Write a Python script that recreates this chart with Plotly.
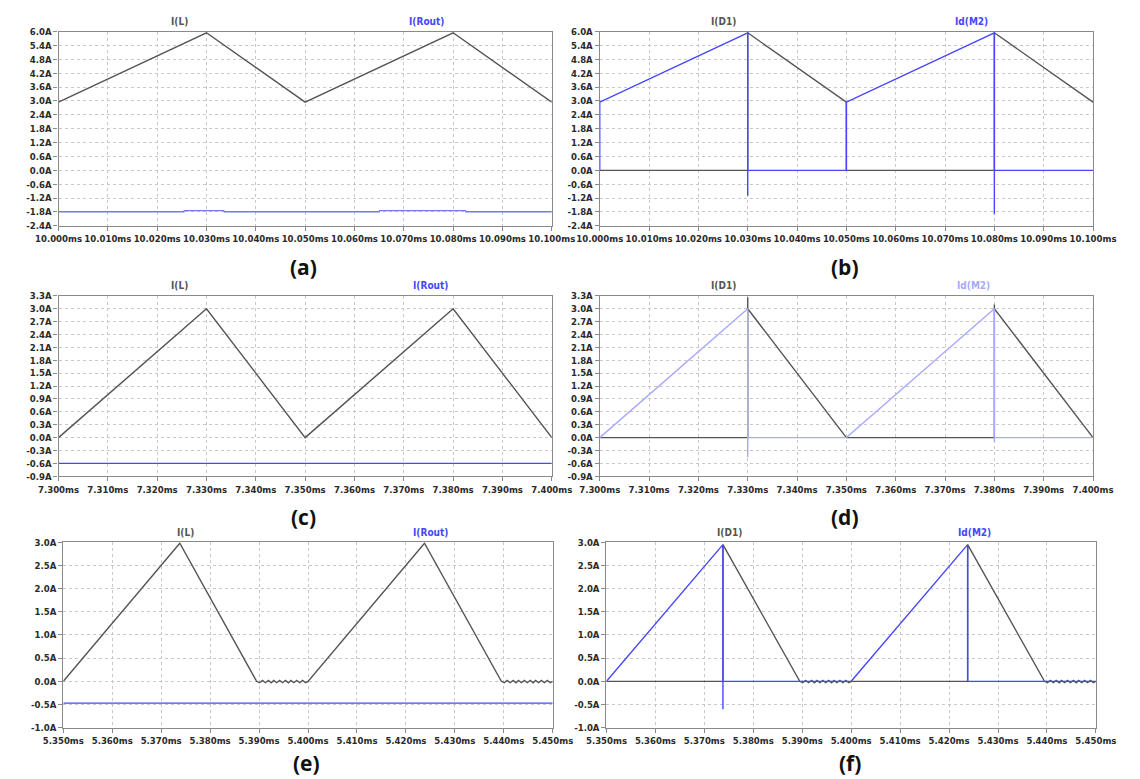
import plotly.graph_objects as go

W, H = 1140, 779

# ---------------- data ----------------
# (a)
a_t = [10.000, 10.030, 10.050, 10.080, 10.100]
a_il = [2.95, 5.95, 2.95, 5.95, 2.95]
a_rout_t = [10.000, 10.0254, 10.0255, 10.0335, 10.0336, 10.0650, 10.0651, 10.0825, 10.0826, 10.100]
a_rout = [-1.79, -1.79, -1.74, -1.74, -1.79, -1.79, -1.74, -1.74, -1.79, -1.79]

# (b)
b_d1_t = [10.000, 10.030, 10.030, 10.050, 10.050, 10.080, 10.080, 10.100]
b_d1 = [0.0, 0.0, 5.95, 2.95, 0.0, 0.0, 5.95, 2.95]
b_m2_t = [10.000, 10.000, 10.030, 10.030, 10.030, 10.050, 10.050, 10.080, 10.080, 10.080, 10.100]
b_m2 = [0.0, 2.95, 5.95, -1.1, 0.0, 0.0, 2.95, 5.95, -1.9, 0.0, 0.0]

# (c)
c_t = [7.300, 7.330, 7.350, 7.380, 7.400]
c_il = [0.0, 3.0, 0.0, 3.0, 0.0]
c_rout_t = [7.300, 7.400]
c_rout = [-0.6, -0.6]

# (d)
d_d1_t = [7.300, 7.330, 7.330, 7.330, 7.350, 7.380, 7.380, 7.380, 7.400]
d_d1 = [0.0, 0.0, 3.27, 3.0, 0.0, 0.0, 3.1, 3.0, 0.0]
d_m2_t = [7.300, 7.330, 7.330, 7.330, 7.350, 7.380, 7.380, 7.380, 7.400]
d_m2 = [0.0, 3.0, -0.45, 0.0, 0.0, 3.0, -0.1, 0.0, 0.0]

# (e)
e_t = [5.3500, 5.3738, 5.3895,
       5.3901, 5.3907, 5.3913, 5.3919, 5.3925, 5.3930, 5.3936, 5.3942, 5.3948,
       5.3954, 5.3960, 5.3965, 5.3971, 5.3977, 5.3983, 5.3989, 5.3995, 5.4000,
       5.4238, 5.4395,
       5.4401, 5.4407, 5.4413, 5.4419, 5.4425, 5.4430, 5.4436, 5.4442, 5.4448,
       5.4454, 5.4460, 5.4465, 5.4471, 5.4477, 5.4483, 5.4489, 5.4495, 5.4500]
e_il = [0.0, 2.98, 0.0,
        -0.03, 0.02, -0.03, 0.02, -0.03, 0.02, -0.03, 0.02, -0.03,
        0.02, -0.03, 0.02, -0.03, 0.02, -0.03, 0.02, -0.03, 0.0,
        2.98, 0.0,
        -0.03, 0.02, -0.03, 0.02, -0.03, 0.02, -0.03, 0.02, -0.03,
        0.02, -0.03, 0.02, -0.03, 0.02, -0.03, 0.02, -0.03, 0.0]
e_rout_t = [5.350, 5.450]
e_rout = [-0.47, -0.47]

# (f)
f_d1_t = [5.3500, 5.3738, 5.3738, 5.3895,
          5.3901, 5.3907, 5.3913, 5.3919, 5.3925, 5.3930, 5.3936, 5.3942, 5.3948,
          5.3954, 5.3960, 5.3965, 5.3971, 5.3977, 5.3983, 5.3989, 5.3995, 5.4000,
          5.4238, 5.4238, 5.4395,
          5.4401, 5.4407, 5.4413, 5.4419, 5.4425, 5.4430, 5.4436, 5.4442, 5.4448,
          5.4454, 5.4460, 5.4465, 5.4471, 5.4477, 5.4483, 5.4489, 5.4495, 5.4500]
f_d1 = [0.0, 0.0, 2.95, 0.0,
        -0.03, 0.02, -0.03, 0.02, -0.03, 0.02, -0.03, 0.02, -0.03,
        0.02, -0.03, 0.02, -0.03, 0.02, -0.03, 0.02, -0.03, 0.0,
        0.0, 2.95, 0.0,
        -0.03, 0.02, -0.03, 0.02, -0.03, 0.02, -0.03, 0.02, -0.03,
        0.02, -0.03, 0.02, -0.03, 0.02, -0.03, 0.02, -0.03, 0.0]
f_m2_t = [5.3500, 5.3738, 5.3738, 5.3738, 5.3895, 5.4000, 5.4238, 5.4238, 5.4500]
f_m2 = [0.0, 2.95, -0.6, 0.0, 0.0, 0.0, 2.95, 0.0, 0.0]

# axis ticks
ab_yticks = [-2.4, -1.8, -1.2, -0.6, 0.0, 0.6, 1.2, 1.8, 2.4, 3.0, 3.6, 4.2, 4.8, 5.4, 6.0]
cd_yticks = [-0.9, -0.6, -0.3, 0.0, 0.3, 0.6, 0.9, 1.2, 1.5, 1.8, 2.1, 2.4, 2.7, 3.0, 3.3]
ef_yticks = [-1.0, -0.5, 0.0, 0.5, 1.0, 1.5, 2.0, 2.5, 3.0]
ab_xticks = [10.000, 10.010, 10.020, 10.030, 10.040, 10.050, 10.060, 10.070, 10.080, 10.090, 10.100]
cd_xticks = [7.300, 7.310, 7.320, 7.330, 7.340, 7.350, 7.360, 7.370, 7.380, 7.390, 7.400]
ef_xticks = [5.350, 5.360, 5.370, 5.380, 5.390, 5.400, 5.410, 5.420, 5.430, 5.440, 5.450]

panel_letters = ["(a)", "(b)", "(c)", "(d)", "(e)", "(f)"]
trace_names = [["I(L)", "I(Rout)"], ["I(D1)", "Id(M2)"], ["I(L)", "I(Rout)"],
               ["I(D1)", "Id(M2)"], ["I(L)", "I(Rout)"], ["I(D1)", "Id(M2)"]]

# ---------------- layout geometry (pixels) ----------------
boxes = [  # x0, x1, y0(top), y1(bottom)
    (37, 551, 26, 223),
    (601, 1115, 26, 223),
    (37, 551, 294, 477),
    (601, 1115, 294, 477),
    (42, 552, 544, 732),
    (608, 1118, 544, 732),
]
name_pos = [(163, 420), (730, 988), (163, 425), (730, 990), (169, 425), (736, 991)]
letter_pos = [(292, 265), (857, 265), (292, 518), (857, 518), (295, 768), (862, 768)]

GRAY = "#555555"
BLUE = "#4646ff"
BLUE_A = "#7676ee"
BLUE_D = "#a9a9ff"

panels = [
    [(a_t, a_il, GRAY), (a_rout_t, a_rout, BLUE_A)],
    [(b_d1_t, b_d1, GRAY), (b_m2_t, b_m2, BLUE)],
    [(c_t, c_il, GRAY), (c_rout_t, c_rout, BLUE)],
    [(d_d1_t, d_d1, GRAY), (d_m2_t, d_m2, BLUE_D)],
    [(e_t, e_il, GRAY), (e_rout_t, e_rout, BLUE)],
    [(f_d1_t, f_d1, GRAY), (f_m2_t, f_m2, BLUE)],
]
name_colors = [(GRAY, BLUE), (GRAY, BLUE), (GRAY, BLUE), (GRAY, BLUE_D), (GRAY, BLUE), (GRAY, BLUE)]
xticks_list = [ab_xticks, ab_xticks, cd_xticks, cd_xticks, ef_xticks, ef_xticks]
yticks_list = [ab_yticks, ab_yticks, cd_yticks, cd_yticks, ef_yticks, ef_yticks]

fig = go.Figure()
NARROW = "Liberation Sans Narrow, DejaVu Sans Condensed, Arial Narrow, sans-serif"
tick_font = dict(family=NARROW, size=9.5, color="#2a2a2a", weight="bold")

annotations = []
for i, (traces, box) in enumerate(zip(panels, boxes)):
    k = i + 1
    xa = "x" if k == 1 else f"x{k}"
    ya = "y" if k == 1 else f"y{k}"
    for (tx, ty, col) in traces:
        fig.add_trace(go.Scatter(x=tx, y=ty, mode="lines", xaxis=xa, yaxis=ya,
                                 line=dict(color=col, width=1.4), showlegend=False,
                                 hoverinfo="skip"))
    x0, x1, y0, y1 = box
    xt = xticks_list[i]
    yt = yticks_list[i]
    common = dict(showline=True, mirror=True, linecolor="#8a8a8a", linewidth=1.2,
                  ticks="outside", ticklen=4, tickcolor="#8a8a8a", tickangle=0,
                  showgrid=True, gridcolor="#c8c8c8", griddash="dot", gridwidth=1,
                  zeroline=False, tickfont=tick_font)
    fig.layout[f"xaxis{'' if k == 1 else k}"] = dict(
        domain=[x0 / W, x1 / W], anchor=ya, range=[xt[0], xt[-1]],
        tickmode="array", tickvals=xt, ticktext=[f"{v:.3f}ms" for v in xt], **common)
    fig.layout[f"yaxis{'' if k == 1 else k}"] = dict(
        domain=[1 - y1 / H, 1 - y0 / H], anchor=xa, range=[yt[0], yt[-1]],
        tickmode="array", tickvals=yt, ticktext=[f"{v:.1f}A" for v in yt], **common)
    for j, nm in enumerate(trace_names[i]):
        annotations.append(dict(x=name_pos[i][j] / W, y=1 - (y0 - 10) / H, xref="paper", yref="paper",
                                text=nm, showarrow=False, xanchor="center", yanchor="middle",
                                font=dict(family=NARROW, size=10, color=name_colors[i][j], weight="bold")))
    annotations.append(dict(x=letter_pos[i][0] / W, y=1 - letter_pos[i][1] / H, xref="paper", yref="paper",
                            text=panel_letters[i], showarrow=False, xanchor="center", yanchor="middle",
                            font=dict(family="Open Sans, Lato, sans-serif", size=21, color="#111111",
                                      weight="bold")))

fig.update_layout(width=W, height=H, margin=dict(l=0, r=0, t=0, b=0),
                  paper_bgcolor="white", plot_bgcolor="white",
                  annotations=annotations)

fig.write_html("out.html", config={"displayModeBar": False},
               post_script="document.body.style.margin='0';document.body.style.padding='0';")
